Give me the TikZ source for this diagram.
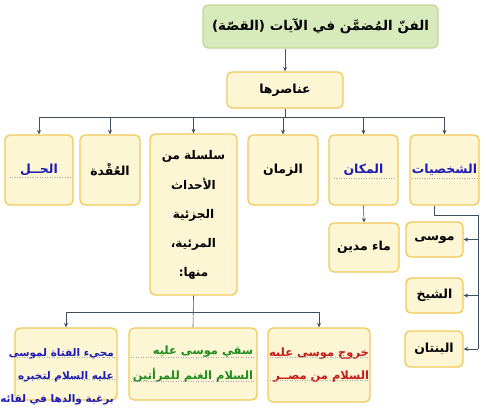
\documentclass[tikz,border=0pt]{standalone}
\usepackage{fontspec}
\setmainfont{DejaVu Sans}
\newfontfamily\arfont[Script=Arabic]{DejaVu Sans}
\TeXXeTstate=1
\usetikzlibrary{arrows.meta}
\definecolor{boxfill}{HTML}{FDF6D5}
\definecolor{boxborder}{HTML}{F0C95A}
\definecolor{greenfill}{HTML}{D7EABC}
\definecolor{greenborder}{HTML}{BFDA94}
\definecolor{linec}{HTML}{3F4F60}
\definecolor{bluetext}{HTML}{1C1CB4}
\definecolor{greentext}{HTML}{1E8C1E}
\definecolor{redtext}{HTML}{C41A1A}
\newcommand\rtl[1]{\beginR #1\endR}
\tikzset{
  ybox/.style={draw=boxborder, line width=1.3bp, fill=boxfill, rounded corners=5bp,
    inner sep=0pt, align=center, font=\arfont\bfseries\fontsize{12.5}{15}\selectfont},
  gbox/.style={ybox, draw=greenborder, fill=greenfill, font=\arfont\bfseries\fontsize{13.5}{16}\selectfont},
  bigtxt/.style={font=\arfont\bfseries\fontsize{11.5}{14}\selectfont},
  arr/.style={draw=linec, line width=0.6bp, -{Stealth[length=4.5bp,width=4bp]}},
  ln/.style={draw=linec, line width=0.6bp},
  dots/.style={draw=gray!70, dotted, line width=0.5bp}
}
\begin{document}
\begin{tikzpicture}[x=1bp,y=-1bp]
\useasboundingbox (0,0) rectangle (486,415);
% top
\node[gbox, minimum width=235bp, minimum height=43bp] (title) at (320.5,26.5)
  {\rtl{الفنّ المُضمَّن في الآيات (القصّة)}};
\node[ybox, minimum width=116bp, minimum height=36bp] (ele) at (285,90) {\rtl{عناصرها}};
% row
\node[ybox, minimum width=68bp, minimum height=70bp, text=bluetext] (hal) at (39,170) {\rtl{الحــل}};
\node[ybox, minimum width=60bp, minimum height=70bp] (uqda) at (110,170) {\rtl{العُقْدة}};
\node[ybox, minimum width=87bp, minimum height=161bp, font=\arfont\bfseries\fontsize{12}{14}\selectfont] (silsila) at (193.5,214.5)
  {\rtl{سلسلة من}\\[15bp]\rtl{الأحداث}\\[15bp]\rtl{الجزئية}\\[15bp]\rtl{المرئية،}\\[15bp]\rtl{منها:}};
\node[ybox, minimum width=70bp, minimum height=70bp] (zaman) at (283,170) {\rtl{الزمان}};
\node[ybox, minimum width=69bp, minimum height=70bp, text=bluetext] (makan) at (363.5,170) {\rtl{المكان}};
\node[ybox, minimum width=69bp, minimum height=70bp, text=bluetext] (shakh) at (444.5,170) {\rtl{الشخصيات}};
% sub
\node[ybox, minimum width=70bp, minimum height=49bp] (madyan) at (364,247.5) {\rtl{ماء مدين}};
\node[ybox, minimum width=57bp, minimum height=35bp] (musa) at (434.5,239.5) {\rtl{موسى}};
\node[ybox, minimum width=57bp, minimum height=35bp] (shaykh) at (434.5,295.5) {\rtl{الشيخ}};
\node[ybox, minimum width=58bp, minimum height=36bp] (bintan) at (434,349) {\rtl{البنتان}};
% bottom
\node[ybox, bigtxt, minimum width=102bp, minimum height=74bp, align=right, text=redtext] (red) at (319,365)
  {\rtl{خروج موسى عليه}\\[9bp]\rtl{السلام من مصــر}};
\node[ybox, bigtxt, minimum width=128bp, minimum height=72bp, align=right, text=greentext] (green) at (193,364)
  {\rtl{سقي موسى عليه}\\[9bp]\rtl{السلام الغنم للمرأتين}};
\node[ybox, minimum width=102bp, minimum height=72bp] (bluebox) at (66,364) {\phantom{x}};
\node[font=\arfont\bfseries\fontsize{10.5}{13}\selectfont, anchor=east, align=right, text=bluetext, inner sep=0pt] (bluetxt) at (114,377)
  {\rtl{مجيء الفتاة لموسى}\\[10bp]\rtl{عليه السلام لتخبره}\\[10bp]\rtl{برغبة والدها في لقائه}};
% dotted guide lines
\draw[dots] (10,177) -- (70,177);
\draw[dots] (334,178) -- (395,178);
\draw[dots] (412,178) -- (478,178);
\draw[dots] (131,357) -- (255,357);
\draw[dots] (131,381) -- (255,381);
\draw[dots] (270,357) -- (368,357);
\draw[dots] (270,380) -- (368,380);
\draw[dots] (17,357) -- (115,357);
\draw[dots] (17,379) -- (115,379);
% connectors
\coordinate (tb) at (0,117);
\coordinate (bb) at (0,312);
\coordinate (sp1) at (434,215);
\coordinate (sp2) at (478,215);
\draw[arr] (title.south -| ele) -- (ele.north);
\draw[ln] (ele.south) -- (ele.south |- tb);
\draw[ln] (hal.north |- tb) -- (shakh.north |- tb);
\foreach \n in {hal,uqda,silsila,zaman,makan,shakh}
  \draw[arr] (\n.north |- tb) -- (\n.north);
\draw[arr] (makan.south) -- (madyan.north);
\draw[ln] (shakh.south -| sp1) -- (sp1) -- (sp2) -- (sp2 |- bintan);
\foreach \n in {musa,shaykh,bintan}
  \draw[arr] (sp2 |- \n) -- (\n.east);
\draw[ln] (silsila.south) -- (green.north);
\draw[ln] (bluebox.north |- bb) -- (red.north |- bb);
\draw[arr] (bluebox.north |- bb) -- (bluebox.north);
\draw[arr] (red.north |- bb) -- (red.north);
\end{tikzpicture}
\end{document}
